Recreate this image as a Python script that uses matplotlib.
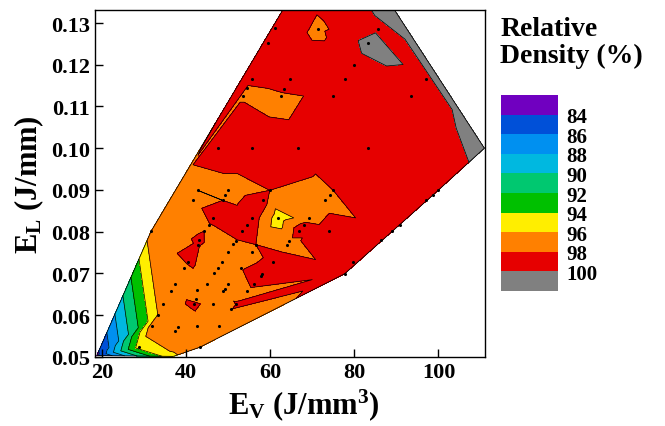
import numpy as np
import matplotlib
matplotlib.use("Agg")
import matplotlib.pyplot as plt
import matplotlib.tri as mtri
from matplotlib.colors import ListedColormap, BoundaryNorm
from matplotlib.collections import LineCollection

plt.rcParams['font.family'] = ['Liberation Serif', 'DejaVu Serif']
plt.rcParams['font.weight'] = 'bold'
plt.rcParams['axes.labelweight'] = 'bold'
plt.rcParams['mathtext.fontset'] = 'custom'
plt.rcParams['mathtext.rm'] = 'Liberation Serif:bold'
plt.rcParams['mathtext.it'] = 'Liberation Serif:bold'
plt.rcParams['mathtext.bf'] = 'Liberation Serif:bold'

# measured samples: volumetric energy (J/mm3), linear energy (J/mm), relative density (%)
ev = [61.1, 71.4, 85.6, 59.5, 83.3, 79.9, 97.1, 55.6, 64.7, 77.7,
      54.4, 63.3, 62.5, 75.0, 93.5, 53.6, 47.5, 55.6, 66.7, 83.3,
      42.8, 49.9, 49.3, 59.9, 75.0, 99.9, 98.7, 97.1, 41.6, 48.7,
      58.3, 74.2, 73.0, 61.9, 55.6, 46.3, 69.3, 68.1, 45.5, 54.4,
      66.9, 74.0, 89.0, 90.8, 31.7, 44.3, 53.2, 86.4, 43.2, 42.8,
      51.2, 52.0, 56.6, 64.5, 63.9, 50.0, 55.6, 60.6, 79.7, 77.7,
      40.4, 39.6, 47.7, 48.5, 53.0, 58.0, 57.8, 46.6, 37.5, 36.4,
      44.9, 49.9, 49.3, 48.9, 56.2, 54.6, 42.5, 42.4, 34.6, 42.0,
      46.3, 52.0, 50.8, 33.3, 32.0, 37.5, 38.2, 42.5, 47.8, 28.9,
      43.3]
el = [0.1287, 0.1285, 0.1285, 0.1251, 0.1251, 0.1200, 0.1167, 0.1167, 0.1167, 0.1167,
      0.1144, 0.1143, 0.1125, 0.1125, 0.1125, 0.1125, 0.1000, 0.1000, 0.1000, 0.1000,
      0.0899, 0.0899, 0.0888, 0.0899, 0.0899, 0.0899, 0.0888, 0.0875, 0.0875, 0.0875,
      0.0875, 0.0887, 0.0875, 0.0833, 0.0833, 0.0833, 0.0833, 0.0817, 0.0817, 0.0817,
      0.0801, 0.0801, 0.0801, 0.0817, 0.0801, 0.0801, 0.0801, 0.0779, 0.0779, 0.0769,
      0.0771, 0.0777, 0.0769, 0.0777, 0.0767, 0.0751, 0.0751, 0.0727, 0.0727, 0.0699,
      0.0727, 0.0713, 0.0713, 0.0727, 0.0713, 0.0699, 0.0693, 0.0701, 0.0675, 0.0657,
      0.0675, 0.0675, 0.0663, 0.0657, 0.0675, 0.0657, 0.0659, 0.0639, 0.0627, 0.0627,
      0.0627, 0.0627, 0.0615, 0.0601, 0.0575, 0.0563, 0.0571, 0.0575, 0.0575, 0.0523,
      0.0523]
rd = [99.5, 97.6, 99.8, 99.4, 100.6, 99.3, 99.6, 99.3, 99.4, 99.3,
      97.5, 99.2, 97.0, 99.3, 99.2, 97.8, 99.5, 99.5, 99.2, 99.0,
      98.0, 97.0, 97.0, 98.0, 98.0, 99.0, 99.0, 99.0, 97.0, 98.0,
      99.0, 97.0, 97.0, 95.0, 99.2, 99.2, 97.0, 98.5, 97.8, 99.2,
      99.0, 99.0, 99.0, 99.0, 97.0, 98.0, 99.2, 99.0, 98.2, 98.1,
      97.8, 97.8, 98.0, 97.5, 97.5, 97.0, 97.0, 98.8, 99.0, 98.5,
      98.4, 97.0, 97.0, 97.0, 97.8, 99.0, 99.0, 97.0, 97.0, 97.0,
      97.0, 97.0, 96.3, 97.0, 99.0, 97.0, 97.0, 97.0, 96.8, 98.5,
      97.0, 98.3, 96.2, 96.0, 97.0, 97.0, 96.0, 97.0, 97.0, 95.0,
      97.0]

# boundary samples of the gridded map (no marker shown)
ev_edge = [18.8, 37.0, 110.9, 70.0, 81.9, 40.9]
el_edge = [0.0503, 0.0501, 0.1000, 0.1450, 0.1450, 0.0955]
rd_edge = [83.5, 95.8, 100.5, 99.5, 100.8, 97.8]

levels = [82, 84, 86, 88, 90, 92, 94, 96, 98, 100, 102]
colors = ['#7000c0', '#0050d8', '#0090f0', '#00b8e0', '#00c870',
          '#00c000', '#ffee00', '#ff8000', '#e60000', '#808080']

x = np.array(ev + ev_edge)
y = np.array(el + el_edge)
z = np.array(rd + rd_edge)

# triangulate in normalised coordinates so the cells are not stretched
tri0 = mtri.Triangulation((x - 18) / 93.0, (y - 0.05) / 0.095)
tri = mtri.Triangulation(x, y, tri0.triangles)

cmap = ListedColormap(colors)
norm = BoundaryNorm(levels, cmap.N)

fig = plt.figure(figsize=(6.65, 4.27), dpi=100)
ax = fig.add_axes([0.143, 0.162, 0.586, 0.812])
ax.tricontourf(tri, z, levels=levels, colors=colors)
ax.tricontour(tri, z, levels=levels, colors='k', linewidths=0.5)

# outline of the mapped domain
segs = []
for t, nb in zip(tri.triangles, tri.neighbors):
    for k in range(3):
        if nb[k] == -1:
            a, b = t[k], t[(k + 1) % 3]
            segs.append([(x[a], y[a]), (x[b], y[b])])
ax.add_collection(LineCollection(segs, colors='k', linewidths=0.6))

ax.scatter(ev, el, s=5, c='k', zorder=5, linewidths=0)

ax.set_xlim(18.4, 111)
ax.set_ylim(0.05, 0.1331)
ax.set_xticks([20, 40, 60, 80, 100])
ax.set_yticks([0.05, 0.06, 0.07, 0.08, 0.09, 0.10, 0.11, 0.12, 0.13])
ax.set_yticklabels(['0.05', '0.06', '0.07', '0.08', '0.09', '0.10', '0.11', '0.12', '0.13'])
ax.tick_params(direction='in', labelsize=16, length=6, width=1, top=False, right=False)
for s in ax.spines.values():
    s.set_linewidth(1.0)
ax.set_xlabel(r'E$_\mathrm{V}$ (J/mm$^\mathrm{3}$)', fontsize=22, labelpad=3)
ax.xaxis.set_label_coords(0.535, -0.085, transform=ax.transAxes)
ax.xaxis.label.set_va('top')
ax.set_ylabel(r'E$_\mathrm{L}$ (J/mm)', fontsize=22, labelpad=4)

cax = fig.add_axes([0.753, 0.316, 0.086, 0.459])
cb = fig.colorbar(plt.cm.ScalarMappable(norm=norm, cmap=cmap), cax=cax,
                  boundaries=levels, ticks=levels[1:-1])
cax.invert_yaxis()
cax.minorticks_off()
cb.outline.set_visible(False)
cax.tick_params(length=0, labelsize=15, pad=6)
fig.text(0.752, 0.96, 'Relative\nDensity (%)', fontsize=20, fontweight='bold',
         va='top', ha='left', linespacing=1.1)

fig.savefig('out.png', dpi=100)
